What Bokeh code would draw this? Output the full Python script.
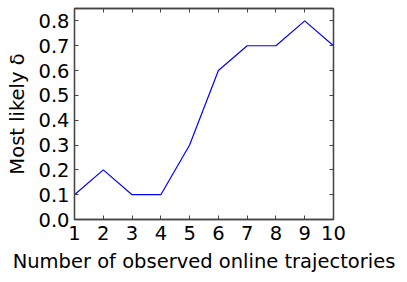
from bokeh.plotting import figure
from bokeh.models import LinearAxis, Range1d, FixedTicker, PrintfTickFormatter
from bokeh.embed import file_html
from bokeh.resources import INLINE

trajectories = [1, 2, 3, 4, 5, 6, 7, 8, 9, 10]
delta = [0.1, 0.2, 0.1, 0.1, 0.3, 0.6, 0.7, 0.7, 0.8, 0.7]
x_ticks = [1, 2, 3, 4, 5, 6, 7, 8, 9, 10]
y_ticks = [0.0, 0.1, 0.2, 0.3, 0.4, 0.5, 0.6, 0.7, 0.8]

FONT = "DejaVu Sans"
FS = "19.5px"
EDGE = "#444444"

p = figure(frame_width=259, frame_height=211, output_backend="svg", toolbar_location=None,
           x_range=Range1d(1, 10), y_range=Range1d(0, 0.85),
           min_border_left=74, min_border_right=66, min_border_top=8, min_border_bottom=58,
           x_axis_label="Number of observed online trajectories", y_axis_label="Most likely δ")
p.line(trajectories, delta, line_color="#0000ff", line_width=1.2)

p.grid.visible = False
p.outline_line_color = EDGE
p.outline_line_width = 1.3

for ax in p.axis:
    ax.major_tick_in = 4
    ax.major_tick_out = 0
    ax.minor_tick_line_color = None
    ax.axis_line_color = EDGE
    ax.axis_line_width = 1.3
    ax.major_tick_line_color = EDGE
    ax.major_label_text_font = FONT
    ax.major_label_text_font_size = FS
    ax.major_label_text_color = "black"
    ax.axis_label_text_font = FONT
    ax.axis_label_text_font_size = FS
    ax.axis_label_text_font_style = "normal"
    ax.axis_label_text_color = "black"

p.xaxis.ticker = FixedTicker(ticks=x_ticks)
p.yaxis.ticker = FixedTicker(ticks=y_ticks)
p.yaxis.formatter = PrintfTickFormatter(format="%.1f")
p.xaxis.major_label_standoff = 6
p.yaxis.major_label_standoff = 5
p.xaxis.axis_label_standoff = 7
p.yaxis.axis_label_standoff = 6

for loc, ticks in (("above", x_ticks), ("right", y_ticks)):
    ax = LinearAxis(ticker=FixedTicker(ticks=ticks), major_tick_in=4, major_tick_out=0,
                    major_label_text_font_size="1px", major_label_text_color=None,
                    major_label_standoff=0, minor_tick_line_color=None,
                    axis_line_color=EDGE, major_tick_line_color=EDGE, axis_line_width=1.3)
    p.add_layout(ax, loc)

open("out.html", "w").write(file_html(p, INLINE))
